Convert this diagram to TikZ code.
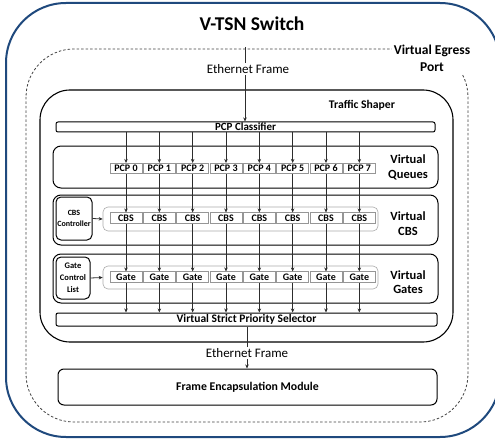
\documentclass[tikz,border=0pt]{standalone}
\usepackage{fontspec}
\setmainfont{Carlito}
\usetikzlibrary{arrows.meta}
\definecolor{outerblue}{RGB}{31,73,125}
\definecolor{boxgray}{RGB}{150,150,150}
\definecolor{linegray}{RGB}{45,45,45}
\begin{document}
\begin{tikzpicture}[x=1pt,y=-1pt,
  blk/.style={draw=black,line width=1pt,inner sep=0pt,fill=white},
  small/.style={draw=boxgray,line width=0.6pt,fill=white,inner sep=0pt,minimum width=32pt,minimum height=10.5pt,
     font=\fontsize{10}{10}\selectfont\bfseries},
  cont/.style={draw=boxgray!80,line width=0.6pt,rounded corners=5pt,inner sep=0pt,minimum width=275pt},
  arr/.style={draw=linegray,line width=0.8pt,-{Stealth[length=4pt,width=3.5pt]}},
  lbl/.style={font=\fontsize{12.5}{14.5}\selectfont\bfseries,align=center},
  eth/.style={font=\fontsize{13}{15}\selectfont,fill=white,inner sep=1pt}]
\useasboundingbox (0,0) rectangle (495,441);
% outer switch
\draw[outerblue,line width=2pt,rounded corners=60pt] (6,3) rectangle (500,437);
\node[font=\fontsize{19.5}{22}\selectfont\bfseries] (title) at (252,24) {V-TSN Switch};
% virtual egress port
\draw[black!75,line width=0.8pt,dash pattern=on 2.5pt off 2pt,rounded corners=48pt] (26,49) rectangle (468,422);
% traffic shaper
\node[blk,line width=1.1pt,rounded corners=30pt,minimum width=413pt,minimum height=252pt] (ts) at (246.5,216) {};
\node[font=\fontsize{11.7}{13}\selectfont\bfseries] (tsl) at (362,105) {Traffic Shaper};
% PCP classifier
\node[blk,rounded corners=2pt,minimum width=379pt,minimum height=10pt,font=\fontsize{11}{11}\selectfont\bfseries] (cls) at (245.5,127) {PCP Classifier};
% row boxes
\node[blk,rounded corners=8pt,minimum width=385pt,minimum height=42pt] (vq) at (245.5,167) {};
\node[blk,rounded corners=8pt,minimum width=385pt,minimum height=50pt] (vc) at (245.5,220) {};
\node[blk,rounded corners=8pt,minimum width=385pt,minimum height=49pt] (vg) at (245.5,278.5) {};
\node[lbl] (vql) at (408,167.5) {Virtual\\Queues};
\node[lbl] (vcl) at (408,223.5) {Virtual\\CBS};
\node[lbl] (vgl) at (408,282) {Virtual\\Gates};
% containers
\node[cont,minimum height=24pt] (cc) at (240.5,219) {};
\node[cont,minimum height=23pt] (gc) at (240.5,277.5) {};
% controllers
\node[blk,rounded corners=5pt,minimum width=36pt,minimum height=43pt,align=center,font=\fontsize{8}{10.5}\selectfont\bfseries] (ctl) at (74,218.5) {CBS\\Controller};
\node[blk,rounded corners=5pt,minimum width=34pt,minimum height=42pt,align=center,font=\fontsize{8.5}{12}\selectfont\bfseries] (gcl) at (73,278) {Gate\\Control\\List};
\draw[arr] (ctl.east) -- (cc.west);
\draw[arr] (gcl.east) -- (gc.west);
% VSP
\node[blk,rounded corners=2pt,minimum width=381pt,minimum height=13pt,font=\fontsize{11.5}{12}\selectfont\bfseries] (vsp) at (246.5,319.5) {Virtual Strict Priority Selector};
% FEM
\node[blk,rounded corners=6pt,minimum width=379pt,minimum height=36pt,font=\fontsize{11.8}{13}\selectfont\bfseries] (fem) at (247.5,387) {Frame Encapsulation Module};
% columns
\foreach \i in {0,...,7}{
  \node[small] (p\i) at ({126+33.33*\i},168.5) {PCP \i};
  \node[small] (c\i) at ({126+33.33*\i},218) {CBS};
  \node[small] (g\i) at ({126+33.33*\i},277) {Gate};
  \draw[arr] (cls.south -| p\i) -- (p\i.north);
  \draw[arr] (p\i.south) -- (c\i.north);
  \draw[arr] (c\i.south) -- (g\i.north);
  \draw[arr] (g\i.south) -- (vsp.north -| g\i);
}
% input frame
\coordinate (in) at (245,47);
\draw[arr] (in) -- (cls.north -| in);
\node[eth] (ef1) at (248,69) {Ethernet Frame};
% output frame
\draw[arr] (vsp.south -| 247,0) -- (fem.north -| 247,0);
\node[eth] (ef2) at (247,353) {Ethernet Frame};
% egress label
\node[font=\fontsize{13.5}{16.5}\selectfont\bfseries,align=center,fill=white,inner sep=2pt] (vep) at (432,58.5) {Virtual Egress\\Port};
\end{tikzpicture}
\end{document}
